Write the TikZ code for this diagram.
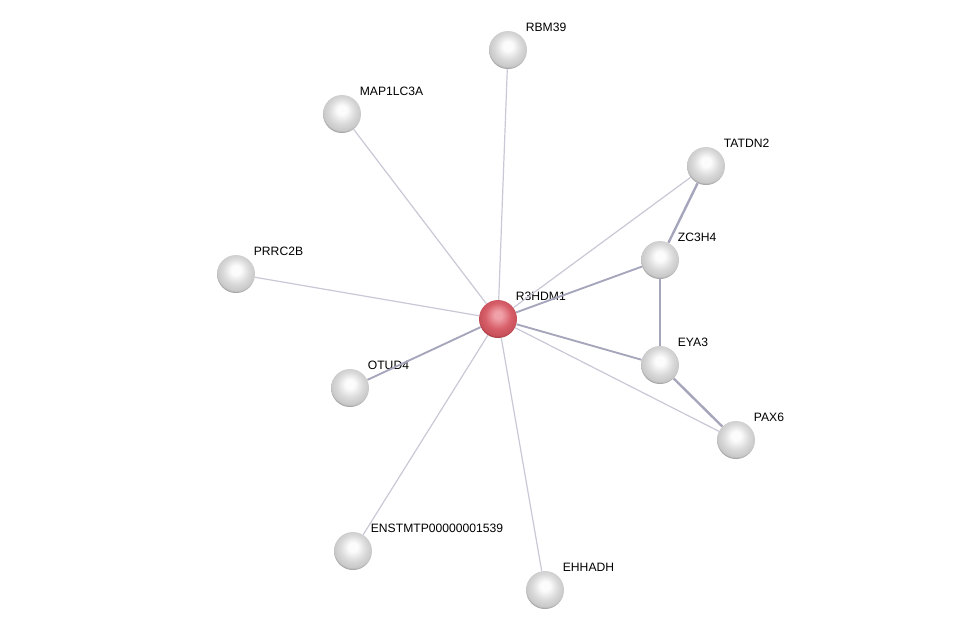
\documentclass[tikz,border=0pt]{standalone}
\usepackage{fontspec}
\setmainfont{Liberation Sans}
\usetikzlibrary{shapes.geometric, positioning}

\definecolor{edgeLight}{RGB}{200,200,214}
\definecolor{edgeDark}{RGB}{165,165,188}
\definecolor{ballHi}{RGB}{252,252,252}
\definecolor{ballMid}{RGB}{218,218,218}
\definecolor{ballLow}{RGB}{200,200,200}
\definecolor{ballRim}{RGB}{120,120,120}
\definecolor{redHi}{RGB}{240,160,168}
\definecolor{redMid}{RGB}{215,95,105}
\definecolor{redLow}{RGB}{200,80,90}
\definecolor{redRim}{RGB}{130,40,48}

\pgfdeclareradialshading{protBall}{\pgfpoint{0bp}{6bp}}{%
  color(0bp)=(ballHi); color(6bp)=(ballHi); color(17bp)=(ballMid);
  color(25bp)=(ballLow); color(29bp)=(ballRim); color(50bp)=(ballRim)}
\pgfdeclareradialshading{queryBall}{\pgfpoint{0bp}{6bp}}{%
  color(0bp)=(redHi); color(5bp)=(redHi); color(17bp)=(redMid);
  color(25bp)=(redLow); color(29bp)=(redRim); color(50bp)=(redRim)}

\begin{document}
\begin{tikzpicture}[
      x=0.75pt, y=-0.75pt,
      font=\fontsize{9.1}{11}\selectfont,
      lbl/.style={inner sep=0pt, xshift=3pt, yshift=3.5pt},
      prot/.style={circle, minimum size=28.5pt, inner sep=0pt, shading=protBall, label={[lbl]45:#1}},
      query/.style={prot=#1, shading=queryBall},
      link/.style={draw=edgeLight, line width=0.9pt},
      linkStrong/.style={draw=edgeDark, line width=1.4pt}
    ]

    \useasboundingbox (0,0) rectangle (976,636);

    % Proteine
    \node[query=R3HDM1] (r3hdm1) at (498,319) {};
    \node[prot=RBM39] (rbm39) at (508,50) {};
    \node[prot=MAP1LC3A] (map1lc3a) at (342,114) {};
    \node[prot=TATDN2] (tatdn2) at (706,166) {};
    \node[prot=ZC3H4] (zc3h4) at (660,260) {};
    \node[prot=PRRC2B] (prrc2b) at (236,274) {};
    \node[prot=EYA3] (eya3) at (660,365) {};
    \node[prot=OTUD4] (otud4) at (350,388) {};
    \node[prot=PAX6] (pax6) at (736,440) {};
    \node[prot=ENSTMTP00000001539] (enst) at (353,551) {};
    \node[prot=EHHADH] (ehhadh) at (545,590) {};

    % Verbindungen vom Zentrum
    \draw[link] (r3hdm1) -- (rbm39);
    \draw[link] (r3hdm1) -- (map1lc3a);
    \draw[link] (r3hdm1) -- (tatdn2);
    \draw[linkStrong] (r3hdm1) -- (zc3h4);
    \draw[link] (r3hdm1) -- (prrc2b);
    \draw[linkStrong] (r3hdm1) -- (eya3);
    \draw[linkStrong] (r3hdm1) -- (otud4);
    \draw[link] (r3hdm1) -- (pax6);
    \draw[link] (r3hdm1) -- (enst);
    \draw[link] (r3hdm1) -- (ehhadh);

    % Weitere Verbindungen
    \draw[linkStrong, line width=1.8pt] (tatdn2) -- (zc3h4);
    \draw[linkStrong] (zc3h4) -- (eya3);
    \draw[linkStrong, line width=1.8pt] (eya3) -- (pax6);

\end{tikzpicture}
\end{document}
